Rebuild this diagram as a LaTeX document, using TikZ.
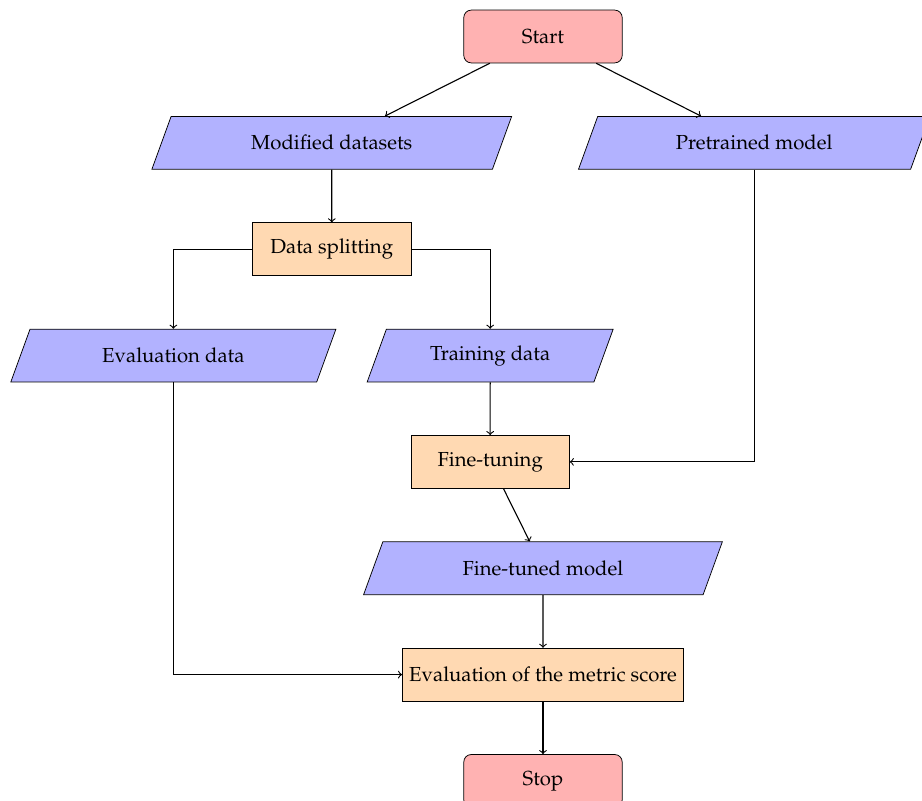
\documentclass[11pt,tikz,border=0pt]{standalone}
\usepackage[T1]{fontenc}
\usepackage{mathpazo}
\usepackage{tikz}
\usetikzlibrary{positioning, shapes.geometric}

\tikzset{
  terminal/.style={rectangle, rounded corners, minimum width=3cm, minimum height=1cm, align=center, draw=black, fill=red!30},
  iobox/.style={trapezium, trapezium left angle=70, trapezium right angle=110, minimum width=3cm, minimum height=1cm, align=center, draw=black, fill=blue!30},
  procbox/.style={rectangle, minimum width=3cm, minimum height=1cm, align=center, draw=black, fill=orange!30},
  flow/.style={->, semithick}
}

\begin{document}
\begin{tikzpicture}
\useasboundingbox (-10.284,0.691) rectangle (7.178,-14.479);

\node[terminal] (start) {Start};
\node[iobox] (moddata) [below=1cm of start, xshift=-4cm] {Modified datasets};
\node[iobox] (pretrained) [below=1cm of start, xshift=4cm] {Pretrained model};

\node[procbox] (split) [below=1cm of moddata] {Data splitting};
\node[iobox] (evaldata) [below=1cm of split, xshift=-3cm] {Evaluation data};
\node[iobox] (traindata) [below=1cm of split, xshift=3cm] {Training data};

\node[procbox] (finetune) [below=1cm of traindata] {Fine-tuning};
\node[iobox] (ftmodel) [below=1cm of finetune, xshift=1cm] {Fine-tuned model};
\node[procbox] (metric) [below=1cm of ftmodel] {Evaluation of the metric score};
\node[terminal] (stop) [below=1cm of metric] {Stop};

% connectors
\draw[flow] (start) -- (moddata);
\draw[flow] (start) -- (pretrained);
\draw[flow] (moddata) -- (split);
\draw[flow] (split) -| (evaldata);
\draw[flow] (split) -| (traindata);
\draw[flow] (traindata) -- (finetune);
\draw[flow] (pretrained) |- (finetune);
\draw[flow] (finetune) -- (ftmodel);
\draw[flow] (evaldata) |- (metric);
\draw[flow] (ftmodel) -- (metric);
\draw[flow] (metric) -- (stop);

\end{tikzpicture}
\end{document}
